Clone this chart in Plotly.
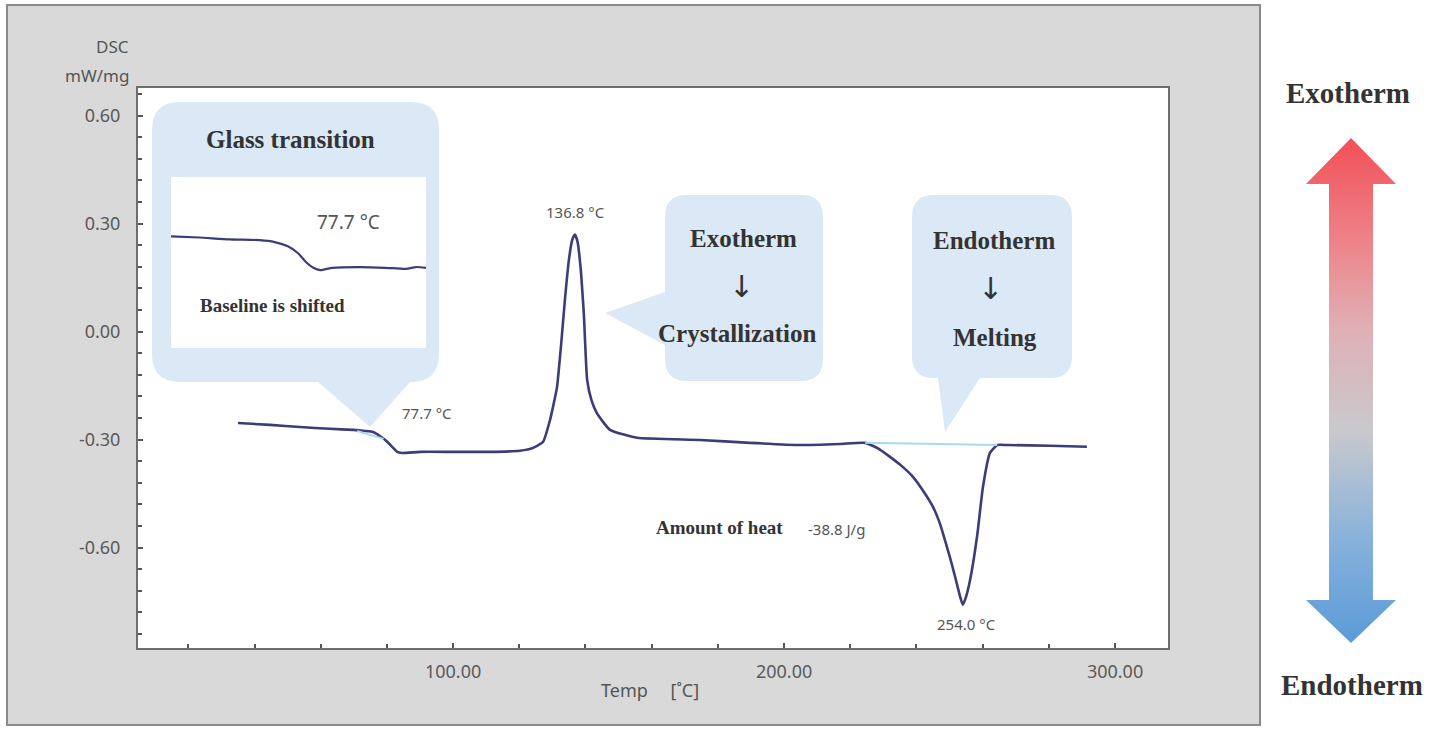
import plotly.graph_objects as go

W, H = 1440, 731

# ---------------- data ----------------
temp = [35.0, 44.7, 53.8, 62.8, 69.8, 73.4, 75.8, 77.9, 80.1, 81.9, 83.1, 84.6, 90.0,
        100.0, 111.2, 120.2, 124.2, 127.2, 129.3, 130.4, 131.4, 132.6, 133.8, 135.0,
        136.0, 136.8, 137.6, 138.6, 139.5, 140.5, 141.8, 143.5, 147.4, 155.6, 174.6,
        189.7, 204.8, 216.9, 224.5, 228.5, 232.0, 235.5, 239.0, 242.0, 245.0, 247.2,
        249.2, 250.8, 252.3, 253.3, 254.0, 254.8, 256.2, 258.3, 260.1, 262.2, 264.4,
        267.4, 280.4, 291.5]
dsc = [-0.254, -0.259, -0.265, -0.270, -0.273, -0.276, -0.279, -0.290, -0.306, -0.323,
       -0.334, -0.337, -0.334, -0.334, -0.334, -0.331, -0.323, -0.306, -0.245, -0.200,
       -0.154, -0.040, 0.090, 0.200, 0.255, 0.270, 0.250, 0.170, 0.050, -0.134, -0.190,
       -0.227, -0.273, -0.295, -0.301, -0.309, -0.315, -0.312, -0.309, -0.325, -0.348,
       -0.373, -0.404, -0.442, -0.487, -0.536, -0.598, -0.650, -0.704, -0.740, -0.759,
       -0.742, -0.690, -0.570, -0.431, -0.337, -0.315, -0.315, -0.317, -0.320]

melt_base_temp = [224.5, 264.4]
melt_base_dsc = [-0.309, -0.315]
tg_tan_temp = [71.0, 79.0]
tg_tan_dsc = [-0.276, -0.298]

inset_temp = [48.0, 54.9, 62.2, 69.6, 73.2, 76.4, 78.9, 80.8, 82.6, 84.3, 87.2, 94.1,
              100.2, 105.1, 107.6, 110.0]
inset_dsc = [-0.250, -0.253, -0.258, -0.260, -0.265, -0.276, -0.294, -0.317, -0.332,
             -0.338, -0.332, -0.330, -0.332, -0.335, -0.330, -0.332]

y_ticks = [-0.6, -0.3, 0.0, 0.3, 0.6]
y_tick_text = ["-0.60", "-0.30", "0.00", "0.30", "0.60"]
x_ticks = [100, 200, 300]
x_tick_text = ["100.00", "200.00", "300.00"]

peak_labels = [("136.8 °C", 575, 212), ("77.7 °C", 427, 413), ("254.0 °C", 967, 624)]

# ---------------- helpers ----------------
def px(x):
    return x / W

def py(y):
    return 1 - y / H

def P(x, y):
    return f"{px(x):.5f},{py(y):.5f}"

def callout(x0, y0, x1, y1, r, side=None, tail=None):
    d = f"M{P(x0 + r, y0)} L{P(x1 - r, y0)} Q{P(x1, y0)} {P(x1, y0 + r)} "
    d += f"L{P(x1, y1 - r)} Q{P(x1, y1)} {P(x1 - r, y1)} "
    if side == "bottom":
        for (tx, ty) in tail:
            d += f"L{P(tx, ty)} "
    d += f"L{P(x0 + r, y1)} Q{P(x0, y1)} {P(x0, y1 - r)} "
    if side == "left":
        for (tx, ty) in tail:
            d += f"L{P(tx, ty)} "
    d += f"L{P(x0, y0 + r)} Q{P(x0, y0)} {P(x0 + r, y0)} Z"
    return d

NAVY = "#3b3c78"
CYAN = "#a9d9ec"
BUBBLE = "#dbe8f5"
SERIF = "Liberation Serif, DejaVu Serif, serif"
SANS = "Noto Sans, DejaVu Sans, sans-serif"

fig = go.Figure()

fig.add_trace(go.Scatter(x=temp, y=dsc, mode="lines",
                         line=dict(color=NAVY, width=2.6, shape="spline", smoothing=0.45),
                         showlegend=False, hoverinfo="skip"))
fig.add_trace(go.Scatter(x=melt_base_temp, y=melt_base_dsc, mode="lines",
                         line=dict(color=CYAN, width=2), showlegend=False))
fig.add_trace(go.Scatter(x=tg_tan_temp, y=tg_tan_dsc, mode="lines",
                         line=dict(color=CYAN, width=2), showlegend=False))
fig.add_trace(go.Scatter(x=inset_temp, y=inset_dsc, mode="lines", xaxis="x2", yaxis="y2",
                         line=dict(color=NAVY, width=2.2, shape="spline", smoothing=0.5),
                         showlegend=False))

# gradient double arrow (pixel coordinates on a hidden axis)
ax_x = [1351, 1396, 1373, 1373, 1396, 1351, 1306, 1329, 1329, 1306, 1351]
ax_y = [138, 184, 184, 600, 600, 643, 600, 600, 184, 184, 138]
fig.add_trace(go.Scatter(x=ax_x, y=[H - v for v in ax_y], mode="lines", xaxis="x3", yaxis="y3",
                         fill="toself", line=dict(width=0, color="rgba(0,0,0,0)"),
                         fillgradient=dict(type="vertical",
                                           colorscale=[[0, "#5b9bd8"], [0.2, "#86b1db"],
                                                       [0.42, "#c9c9cd"], [0.62, "#dfb0b5"],
                                                       [0.8, "#ee8288"], [1, "#f24f56"]]),
                         showlegend=False, hoverinfo="skip"))

shapes = [
    dict(type="rect", xref="paper", yref="paper", x0=px(7), x1=px(1260), y0=py(725), y1=py(5),
         fillcolor="#d9d9d9", line=dict(color="#8a8a8a", width=2), layer="below"),
    dict(type="rect", xref="paper", yref="paper", x0=px(138), x1=px(1168), y0=py(648), y1=py(88),
         fillcolor="white", line=dict(width=0), layer="below"),
    dict(type="path", xref="paper", yref="paper",
         path=callout(152, 102, 439, 382, 28, "bottom", [(410, 382), (370, 427), (318, 382)]),
         fillcolor=BUBBLE, line=dict(width=0), layer="below"),
    dict(type="rect", xref="paper", yref="paper", x0=px(171), x1=px(426), y0=py(348), y1=py(177),
         fillcolor="white", line=dict(width=0), layer="below"),
    dict(type="path", xref="paper", yref="paper",
         path=callout(665, 195, 823, 381, 22, "left", [(665, 345), (605, 313), (665, 292)]),
         fillcolor=BUBBLE, line=dict(width=0), layer="below"),
    dict(type="path", xref="paper", yref="paper",
         path=callout(912, 195, 1072, 378, 22, "bottom", [(980, 378), (945, 432), (938, 378)]),
         fillcolor=BUBBLE, line=dict(width=0), layer="below"),
]

def ann(text, x, y, size, color="#555555", family=SANS, weight="normal", xanchor="center"):
    return dict(text=text, x=px(x), y=py(y), xref="paper", yref="paper", showarrow=False,
                xanchor=xanchor, yanchor="middle",
                font=dict(size=size, color=color, family=family, weight=weight))

ARROWF = "DejaVu Sans, sans-serif"
annotations = [
    ann("DSC", 131, 47, 17, xanchor="right"),
    ann("mW/mg", 131, 75, 17, xanchor="right"),
    ann("Temp \u2003[˚C]", 650, 690, 18),
    ann("Amount of heat", 654, 527, 19, "#333333", SERIF, "bold", "left"),
    ann("-38.8 J/g", 806, 529, 15, xanchor="left"),
    ann("Glass transition", 290, 139, 25, "#333333", SERIF, "bold"),
    ann("77.7 °C", 348, 222, 19),
    ann("Baseline is shifted", 272, 305, 19, "#333333", SERIF, "bold"),
    ann("Exotherm", 743, 238, 25, "#333333", SERIF, "bold"),
    ann("↓", 742, 286, 30, "#333333", ARROWF, "normal"),
    ann("Crystallization", 737, 333, 25, "#333333", SERIF, "bold"),
    ann("Endotherm", 994, 240, 25, "#333333", SERIF, "bold"),
    ann("↓", 990, 288, 30, "#333333", ARROWF, "normal"),
    ann("Melting", 995, 337, 25, "#333333", SERIF, "bold"),
    ann("Exotherm", 1348, 93, 29, "#333333", SERIF, "bold"),
    ann("Endotherm", 1352, 685, 29, "#333333", SERIF, "bold"),
]
for (t, x, y) in peak_labels:
    annotations.append(ann(t, x, y, 15))

axis_common = dict(showgrid=False, zeroline=False, showline=True, mirror=True,
                   linecolor="#6e6e6e", linewidth=2, ticks="inside", ticklen=5,
                   tickcolor="#555555", tickwidth=1.5,
                   tickfont=dict(size=18, color="#5a5a5a", family=SANS))

fig.update_layout(
    width=W, height=H, autosize=False,
    margin=dict(l=0, r=0, t=0, b=0),
    paper_bgcolor="white", plot_bgcolor="rgba(0,0,0,0)",
    showlegend=False,
    xaxis=dict(domain=[px(138), px(1168)], range=[4.8, 316], tickvals=x_ticks,
               ticktext=x_tick_text, ticklabelstandoff=6,
               minor=dict(dtick=20, tick0=0, ticks="inside", ticklen=4, tickcolor="#555555"),
               **axis_common),
    yaxis=dict(domain=[py(648), py(88)], range=[-0.879, 0.677], tickvals=y_ticks,
               ticktext=y_tick_text, ticklabelstandoff=12,
               minor=dict(dtick=0.06, tick0=0, ticks="inside", ticklen=4, tickcolor="#555555"),
               **axis_common),
    xaxis2=dict(domain=[px(171), px(426)], range=[48, 110], visible=False, anchor="y2"),
    yaxis2=dict(domain=[py(348), py(177)], range=[-0.541, -0.0954], visible=False, anchor="x2"),
    xaxis3=dict(domain=[px(1260), 1.0], range=[1260, 1440], visible=False, anchor="y3"),
    yaxis3=dict(domain=[0, 1], range=[0, H], visible=False, anchor="x3"),
    shapes=shapes,
    annotations=annotations,
)

fig.write_html("out.html", config={"displayModeBar": False},
               post_script="document.body.style.margin='0';document.body.style.overflow='hidden';")
